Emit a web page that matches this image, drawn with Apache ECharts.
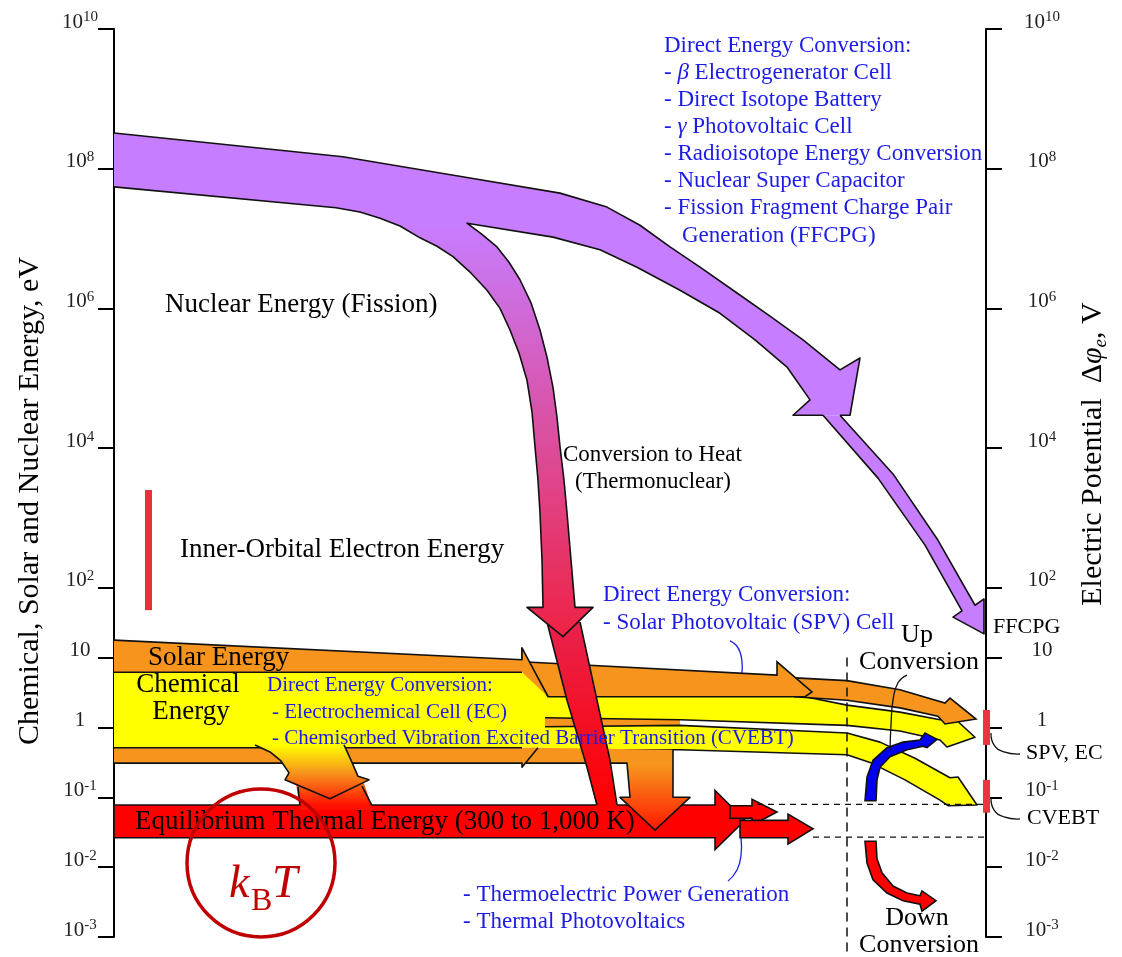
<!DOCTYPE html>
<html>
<head>
<meta charset="utf-8">
<script src="https://cdn.jsdelivr.net/npm/echarts@6/dist/echarts.min.js"></script>
<style>html,body{margin:0;padding:0;background:#fff}#c{width:1122px;height:957px}</style>
</head>
<body>
<div id="c"></div>
<script>
// ---- axis ticks (log10 of energy in eV / potential in V) ----
const yTicks = [-3, -2, -1, 0, 1, 2, 4, 6, 8, 10];

// ---- shapes: [horizontal position 0..872, log10(E)] ----
const nuclearBand = [[0,8.51],[229,8.17],[350,7.88],[446,7.65],[493,7.45],[526,7.19],[556,6.88],[586,6.59],[623,6.22],[656,5.89],[689,5.55],[726,5.12],[746,5.29],[736,4.47],[679,4.47],[696,4.69],[673,5.16],[641,5.55],[606,5.93],[566,6.26],[523,6.59],[486,6.84],[439,7.02],[353,7.22],[306,7.19],[222,7.44],[0,7.74]];
const thermoBranch = [[222,7.44],[246,7.38],[266,7.29],[286,7.18],[306,7.01],[323,6.89],[339,6.74],[356,6.52],[373,6.26],[386,6.00],[396,5.69],[405,5.36],[413,4.97],[418,4.52],[421,4.02],[424,3.54],[426,3.07],[428,2.40],[429,1.72],[413,1.72],[449,1.30],[479,1.72],[461,1.72],[457,2.40],[453,3.07],[450,3.54],[446,4.02],[443,4.44],[439,4.87],[433,5.30],[426,5.69],[417,6.08],[406,6.41],[395,6.66],[383,6.88],[368,7.06],[353,7.22],[326,7.38],[286,7.48]];
const nuclearOutlineA = [[0,8.51],[229,8.17],[350,7.88],[446,7.65],[493,7.45],[526,7.19],[556,6.88],[586,6.59],[623,6.22],[656,5.89],[689,5.55],[726,5.12],[746,5.29],[736,4.47],[726,4.47]];
const nuclearOutlineB = [[709,4.47],[679,4.47],[696,4.69],[673,5.16],[641,5.55],[606,5.93],[566,6.26],[523,6.59],[486,6.84],[439,7.02],[353,7.22],[368,7.06],[383,6.88],[395,6.66],[406,6.41],[417,6.08],[426,5.69],[433,5.30],[439,4.87],[443,4.44],[446,4.02],[450,3.54],[453,3.07],[457,2.40],[461,1.72],[479,1.72],[449,1.30],[413,1.72],[429,1.72],[428,2.40],[426,3.07],[424,3.54],[421,4.02],[418,4.52],[413,4.97],[405,5.36],[396,5.69],[386,6.00],[373,6.26],[356,6.52],[339,6.74],[323,6.89],[306,7.01],[286,7.18],[266,7.29],[246,7.38],[222,7.44],[0,7.74]];
const ffcpgShaft = [[709,4.47],[764,3.57],[811,2.61],[848,1.67],[839,1.58],[870,1.34],[870,1.84],[861,1.75],[824,2.68],[779,3.63],[726,4.47]];

const eqBand = [[0,-1.11],[601,-1.11],[601,-0.90],[631,-1.33],[601,-1.75],[601,-1.58],[0,-1.58]];
const heatArrowA = [[616,-1.12],[638,-1.12],[638,-1.03],[663,-1.21],[638,-1.40],[638,-1.30],[616,-1.30]];
const heatArrowB = [[626,-1.33],[674,-1.33],[674,-1.24],[699,-1.45],[674,-1.67],[674,-1.58],[626,-1.58]];

const chemBlock = [[0,0.79],[486,0.79],[486,-0.29],[0,-0.29]];
const gapStrip = [[431,0.14],[566,0.11],[566,0.03],[431,0.01]];
const ecArrow = [[366,0.44],[691,0.44],[733,0.32],[786,0.22],[826,0.11],[839,0.15],[861,-0.14],[833,-0.28],[826,-0.18],[786,-0.05],[733,0.03],[566,0.11],[431,0.14],[366,0.14]];
const ecOutline = [[686,0.44],[691,0.44],[733,0.32],[786,0.22],[826,0.11],[839,0.15],[861,-0.14],[833,-0.28],[826,-0.18],[786,-0.05],[733,0.03],[566,0.11],[431,0.14]];
const cvebtArrow = [[431,0.01],[566,0.03],[733,-0.08],[766,-0.21],[801,-0.44],[836,-0.72],[844,-0.71],[863,-1.11],[834,-1.12],[826,-1.04],[791,-0.75],[756,-0.50],[733,-0.39],[566,-0.32],[431,-0.32]];

const solarTail = [[681,0.71],[733,0.67],[786,0.54],[831,0.35],[836,0.42],[862,0.12],[831,0.05],[824,0.16],[786,0.28],[733,0.39],[681,0.44]];
const solarMid = [[408,0.94],[663,0.75],[663,0.94],[698,0.51],[691,0.44],[434,0.44],[408,1.11]];
const solarBand = [[0,1.25],[408,0.97],[408,1.14],[434,0.44],[408,0.79],[0,0.79]];
const solarTopLine = [[0,1.25],[408,0.97],[408,1.14],[434,0.44]];
const solarBottomLine = [[0,0.79],[408,0.79]];
const lowerOrange2 = [[418,-0.29],[559,-0.32],[559,-1.00],[576,-1.00],[541,-1.47],[506,-1.00],[516,-1.00],[513,-0.51],[412,-0.51]];
const lowerOrange2Line = [[559,-0.32],[559,-1.00],[576,-1.00],[541,-1.47],[506,-1.00],[516,-1.00],[513,-0.51],[412,-0.51]];
const lowerOrange1 = [[0,-0.29],[424,-0.29],[408,-0.57],[408,-0.51],[0,-0.51]];
const lowerOrange1Top = [[0,-0.29],[408,-0.29]];
const lowerOrange1Bottom = [[0,-0.51],[408,-0.51],[408,-0.57],[424,-0.29]];
const drop1Neck = [[182,-0.80],[250,-0.80],[259,-1.18],[186,-1.18]];
const drop1NeckLeft = [[184,-0.85],[186,-1.12]];
const drop1NeckRight = [[248,-0.84],[258,-1.12]];
const drop1Head = [[141,-0.25],[156,-0.35],[167,-0.48],[175,-0.65],[171,-0.75],[216,-1.02],[255,-0.75],[244,-0.70],[238,-0.50],[230,-0.25]];
const redBand = [[433,1.51],[453,0.39],[473,-0.57],[484,-1.21],[504,-1.21],[496,-0.47],[483,0.39],[466,1.51]];
const redBandLeft = [[433,1.51],[453,0.39],[473,-0.57],[483,-1.11]];
const redBandRight = [[466,1.51],[483,0.39],[496,-0.47],[503,-1.11]];

const upArrow = [[751,-1.05],[753,-0.71],[759,-0.47],[773,-0.29],[789,-0.21],[806,-0.18],[811,-0.08],[823,-0.17],[813,-0.29],[809,-0.27],[793,-0.32],[776,-0.42],[766,-0.57],[763,-0.75],[762,-1.05]];
const downArrow = [[751,-1.63],[753,-1.94],[759,-2.18],[773,-2.37],[789,-2.48],[806,-2.53],[808,-2.63],[822,-2.48],[808,-2.34],[806,-2.41],[793,-2.37],[779,-2.27],[768,-2.08],[763,-1.88],[762,-1.63]];

const markerSpv = [[869,0.25],[876,0.25],[876,-0.25],[869,-0.25]];
const markerCvebt = [[869,-0.75],[876,-0.75],[876,-1.22],[869,-1.22]];
const innerOrbitalBar = [[31,3.40],[38,3.40],[38,1.68],[31,1.68]];

const dividerV = [[733,1.0],[733,-3.26]];
const levelHigh = [[643,-1.10],[872,-1.10]];
const levelLow = [[699,-1.57],[872,-1.57]];

const spvCallout = [[616,1.24],[622,1.18],[626,1.08],[628,0.94],[628,0.78]];
const thermoCallout = [[627,-1.58],[627,-1.83],[623,-2.04],[614,-2.20]];
const upCallout = [[793,0.75],[784,0.64],[779,0.39],[777,0.03],[776,-0.32]];
const ecCallout = [[877,-0.08],[880,-0.25],[890,-0.35],[906,-0.38]];
const cvebtCallout = [[877,-1.01],[880,-1.18],[890,-1.28],[906,-1.31]];

// ---- styles ----
const ORANGE = '#F7941D', YELLOW = '#FFFF00', PURPLE = '#C77DFF', RED = '#FF0000';
const BLUE = '#1c1ce6', INK = '#111';
const FONT = '"Liberation Serif", "Times New Roman", serif';
const drop1Grad = [[-0.25, '#FFFF00'], [-0.65, '#F7941D'], [-1.12, '#FF1000']];

const layers = [
  {pts: eqBand, fill: RED, stroke: INK},
  {pts: chemBlock, fill: YELLOW},
  {pts: gapStrip, fill: ORANGE},
  {pts: ecArrow, fill: YELLOW},
  {pts: ecOutline, kind: 'line'},
  {pts: cvebtArrow, fill: YELLOW},
  {pts: cvebtArrow, kind: 'line'},
  {pts: solarTail, fill: ORANGE, stroke: INK},
  {pts: solarMid, fill: ORANGE, stroke: INK},
  {pts: solarBand, fill: ORANGE},
  {pts: solarTopLine, kind: 'line'},
  {pts: solarBottomLine, kind: 'line'},
  {pts: lowerOrange2, grad: [[-0.55, ORANGE], [-1.47, '#FF1800']]},
  {pts: lowerOrange2Line, kind: 'line'},
  {pts: lowerOrange1, fill: ORANGE},
  {pts: lowerOrange1Top, kind: 'line'},
  {pts: lowerOrange1Bottom, kind: 'line'},
  {pts: drop1Neck, grad: drop1Grad},
  {pts: drop1NeckLeft, kind: 'line'},
  {pts: drop1NeckRight, kind: 'line'},
  {pts: drop1Head, grad: drop1Grad},
  {pts: drop1Head, kind: 'line'},
  {pts: redBand, grad: [[1.51, '#E8224E'], [-1.11, '#FF0000']]},
  {pts: redBandLeft, kind: 'line'},
  {pts: redBandRight, kind: 'line'},
  {pts: heatArrowA, fill: RED, stroke: INK},
  {pts: heatArrowB, fill: RED, stroke: INK},
  {pts: nuclearBand, fill: PURPLE},
  {pts: thermoBranch, grad: [[7.2, PURPLE], [1.3, '#EE2244']]},
  {pts: nuclearOutlineA, kind: 'line'},
  {pts: nuclearOutlineB, kind: 'line'},
  {pts: ffcpgShaft, fill: PURPLE},
  {pts: ffcpgShaft, kind: 'line'},
  {pts: dividerV, kind: 'line', dash: [9, 6], lw: 1.5},
  {pts: levelHigh, kind: 'line', dash: [6, 5], lw: 1.3},
  {pts: levelLow, kind: 'line', dash: [6, 5], lw: 1.3},
  {pts: upArrow, fill: '#0000EE', stroke: INK},
  {pts: downArrow, fill: RED, stroke: INK},
  {pts: markerSpv, fill: '#EE3340'},
  {pts: markerCvebt, fill: '#EE3340'},
  {pts: innerOrbitalBar, fill: '#E8303A'},
  {pts: spvCallout, kind: 'line', stroke: BLUE, lw: 1.3, smooth: 0.5},
  {pts: thermoCallout, kind: 'line', stroke: BLUE, lw: 1.3, smooth: 0.5},
  {pts: upCallout, kind: 'line', lw: 1.3, smooth: 0.5},
  {pts: ecCallout, kind: 'line', lw: 1.3, smooth: 0.5},
  {pts: cvebtCallout, kind: 'line', lw: 1.3, smooth: 0.5}
];

function renderItem(params, api) {
  const L = layers[params.dataIndex];
  const pts = L.pts.map(p => api.coord(p));
  if (L.kind === 'line') {
    return {type: 'polyline', silent: true, shape: {points: pts, smooth: L.smooth || 0},
      style: {stroke: L.stroke || INK, lineWidth: L.lw || 1.6, fill: 'none', lineDash: L.dash || null, lineJoin: 'round'}};
  }
  let fill = L.fill;
  if (L.grad) {
    const ys = L.grad.map(g => api.coord([0, g[0]])[1]);
    const y0 = ys[0], y1 = ys[ys.length - 1];
    fill = new echarts.graphic.LinearGradient(0, y0, 0, y1,
      L.grad.map((g, i) => ({offset: (ys[i] - y0) / (y1 - y0), color: g[1]})), true);
  }
  return {type: 'polygon', silent: true, shape: {points: pts},
    style: {fill: fill, stroke: L.stroke || null, lineWidth: L.stroke ? 1.6 : 0, lineJoin: 'miter'}};
}

function tickFmt(v) {
  if (v === 0) return '{b|1}';
  if (v === 1) return '{b|10}';
  return '{b|10}{s|' + v + '}';
}
const tickRich = {
  b: {fontSize: 21, fontFamily: FONT, color: '#222', lineHeight: 24},
  s: {fontSize: 15, fontFamily: FONT, color: '#222', lineHeight: 10, verticalAlign: 'top'}
};
function yAxisDef(pos, margin) {
  return {
    type: 'value', min: -3, max: 10, position: pos,
    splitLine: {show: false},
    axisLine: {show: true, lineStyle: {color: '#000', width: 2}},
    axisTick: {show: true, customValues: yTicks, length: 16, inside: false, lineStyle: {color: '#000', width: 2}},
    axisLabel: {show: true, customValues: yTicks, formatter: tickFmt, rich: tickRich,
      align: 'center', verticalAlign: 'middle', padding: [0, 0, 14, 0], margin: margin}
  };
}

function txt(text, x, y, size, color, align, extra) {
  return Object.assign({type: 'text', x: x, y: y, z: 100, silent: true,
    style: {text: text, fontSize: size, fontFamily: FONT, fill: color || '#000',
      align: align || 'left', verticalAlign: 'middle'}}, extra || {});
}
const italicRich = {i: {fontStyle: 'italic', fontSize: 23, fontFamily: FONT, fill: BLUE}};
const topList = ['Direct Energy Conversion:', '- {i|β} Electrogenerator Cell', '- Direct Isotope Battery',
  '- {i|γ} Photovoltaic Cell', '- Radioisotope Energy Conversion', '- Nuclear Super Capacitor',
  '- Fission Fragment Charge Pair'];
const topListY = [46, 73, 100, 127, 154, 181, 208];

const texts = [
  txt('Nuclear Energy (Fission)', 165, 305, 27),
  txt('Conversion to Heat', 563, 455, 23),
  txt('(Thermonuclear)', 575, 482, 23),
  txt('Inner-Orbital Electron Energy', 180, 550, 27),
  txt('Solar Energy', 148, 658, 27),
  txt('Chemical', 188, 685, 27, '#000', 'center'),
  txt('Energy', 191, 712, 27, '#000', 'center'),
  txt('Direct Energy Conversion:', 267, 685, 21, BLUE),
  txt('- Electrochemical Cell (EC)', 272, 712, 21, BLUE),
  txt('- Chemisorbed Vibration Excited Barrier Transition (CVEBT)', 272, 738, 21, BLUE),
  txt('Equilibrium Thermal Energy (300 to 1,000 K)', 135, 822, 27),
  txt('Direct Energy Conversion:', 603, 595, 23, BLUE),
  txt('- Solar Photovoltaic (SPV) Cell', 603, 623, 23, BLUE),
  txt('Generation (FFCPG)', 682, 236, 23, BLUE),
  txt('Up', 917, 635, 26, '#000', 'center'),
  txt('Conversion', 919, 662, 26, '#000', 'center'),
  txt('Down', 917, 918, 26, '#000', 'center'),
  txt('Conversion', 919, 945, 26, '#000', 'center'),
  txt('FFCPG', 993, 627, 22),
  txt('SPV, EC', 1026, 753, 22),
  txt('CVEBT', 1027, 818, 22),
  txt('- Thermoelectric Power Generation', 463, 895, 23, BLUE),
  txt('- Thermal Photovoltaics', 463, 922, 23, BLUE),
  txt('Chemical, Solar and Nuclear Energy, eV', 30, 501, 30, '#000', 'center', {rotation: Math.PI / 2}),
  {type: 'text', x: 1093, y: 454, z: 100, rotation: Math.PI / 2, silent: true,
    style: {text: '{a|Electric Potential  Δ}{i|φ}{e|e}{a|, V}', fill: '#000', align: 'center', verticalAlign: 'middle',
      fontSize: 30, fontFamily: FONT,
      rich: {a: {fontSize: 30, fontFamily: FONT, fill: '#000', lineHeight: 34},
        i: {fontSize: 30, fontFamily: FONT, fontStyle: 'italic', fill: '#000', lineHeight: 34},
        e: {fontSize: 19, fontFamily: FONT, fontStyle: 'italic', fill: '#000', lineHeight: 22, verticalAlign: 'bottom'}}}},
  {type: 'circle', z: 100, silent: true, shape: {cx: 261, cy: 863, r: 74},
    style: {fill: 'none', stroke: '#C00000', lineWidth: 3.5}},
  {type: 'text', x: 229, y: 908, z: 101, silent: true,
    style: {text: 'k', fontSize: 46, fontFamily: FONT, fontStyle: 'italic', fill: '#C00000', align: 'left', verticalAlign: 'bottom'}},
  {type: 'text', x: 251, y: 918, z: 101, silent: true,
    style: {text: 'B', fontSize: 32, fontFamily: FONT, fill: '#C00000', align: 'left', verticalAlign: 'bottom'}},
  {type: 'text', x: 272, y: 908, z: 101, silent: true,
    style: {text: 'T', fontSize: 46, fontFamily: FONT, fontStyle: 'italic', fill: '#C00000', align: 'left', verticalAlign: 'bottom'}}
];
topList.forEach((t, i) => {
  const el = txt(t, 664, topListY[i], 23, BLUE);
  el.style.rich = italicRich;
  texts.push(el);
});

const chart = echarts.init(document.getElementById('c'), null, {renderer: 'canvas'});
chart.setOption({
  animation: false,
  backgroundColor: '#fff',
  grid: {left: 114, right: 136, top: 29, bottom: 20},
  xAxis: {type: 'value', min: 0, max: 872, show: false},
  yAxis: [yAxisDef('left', 34), yAxisDef('right', 56)],
  series: [{
    type: 'custom', coordinateSystem: 'cartesian2d', xAxisIndex: 0, yAxisIndex: 0,
    renderItem: renderItem, clip: false, silent: true,
    data: layers.map((l, i) => [i, 0])
  }],
  graphic: {elements: texts}
});
</script>
</body>
</html>
